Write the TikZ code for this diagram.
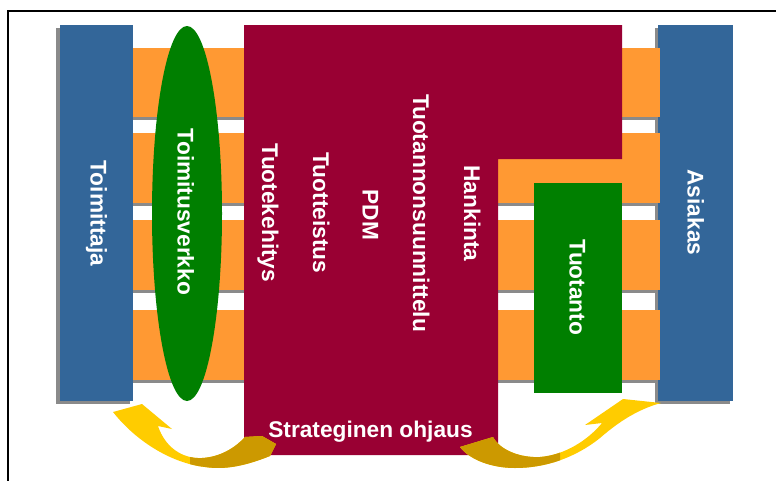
\documentclass[tikz,border=0pt]{standalone}
\usepackage{fontspec}
\setmainfont{Liberation Sans}
\definecolor{barblue}{HTML}{336699}
\definecolor{linkorange}{HTML}{FF9933}
\definecolor{netgreen}{HTML}{007F00}
\definecolor{coremaroon}{HTML}{990033}
\definecolor{shadowgray}{HTML}{8A8A8A}
\definecolor{sweepyellow}{HTML}{FFCC00}
\definecolor{sweepgold}{HTML}{CC9900}
% curved sweep arrows (left: back to the supplier, right: out to the customer)
\def\pathLeftSweep{(113,412) -- (142,404) -- (172,429) -- (158,426)
  .. controls (165,447) and (182,459) .. (202,458)
  .. controls (220,457) and (235,448) .. (245,437)
  -- (262,436) -- (276,444) -- (270,456)
  .. controls (245,466) and (225,470) .. (205,467)
  .. controls (170,463) and (135,440) .. (113,412) -- cycle}
\def\pathRightSweep{(460,447) -- (493,437)
  .. controls (500,450) and (520,458) .. (540,457)
  .. controls (565,455) and (588,440) .. (602,423)
  -- (585,425) -- (623,399) -- (661,403)
  .. controls (635,410) and (615,425) .. (600,438)
  .. controls (575,458) and (545,468) .. (515,468)
  .. controls (492,468) and (470,460) .. (460,447) -- cycle}
\begin{document}
\begin{tikzpicture}[x=1pt,y=-1pt,
  lbl/.style={text=white,font=\bfseries\fontsize{22.7}{26}\selectfont,inner sep=0pt},
  vlbl/.style={lbl,rotate=-90,anchor=base},
  shade/.style={fill=shadowgray},
  link/.style={fill=linkorange}]
\useasboundingbox (0,0) rectangle (776,480);
% outer frame
\draw[line width=2pt] (8,484) -- (8,11) -- (780,11);

% supplier and customer bars with their drop shadows
\fill[shade] (56,28) rectangle (130,404);
\fill[barblue] (60,25) rectangle (133,401);
\fill[shade] (655,28) rectangle (730,404);
\fill[barblue] (658,25) rectangle (733,401);

% connecting strips, left side
\foreach \ya/\yb in {48/117,133/203,220/290,310/380}{
  \fill[shade] (133,\ya+3) rectangle (244,\yb+3);
  \fill[link] (133,\ya) rectangle (244,\yb);
}
% connecting strips, right side
\foreach \ya/\yb in {48/117,133/203,220/290,310/380}{
  \fill[shade] (498,\ya+3) rectangle (657,\yb+3);
  \fill[link] (498,\ya) rectangle (660,\yb);
}

% supply network
\fill[netgreen] (187,213.5) ellipse [x radius=35, y radius=187.5];

% company core
\fill[coremaroon] (244,25) -- (622,25) -- (622,159) -- (498,159)
  -- (498,455) -- (244,455) -- cycle;

% production block
\fill[netgreen] (534,183) rectangle (622,393);

% sweep arrows: bright head, darker tail
\fill[sweepyellow] \pathLeftSweep;
\begin{scope}
  \clip (190,380) rectangle (300,480);
  \fill[sweepgold] \pathLeftSweep;
\end{scope}
\fill[sweepyellow] \pathRightSweep;
\begin{scope}
  \clip (440,380) rectangle (560,480);
  \fill[sweepgold] \pathRightSweep;
\end{scope}

% labels
\node[vlbl] (toimittaja) at (90.5,213.5) {Toimittaja};
\node[vlbl] (verkko) at (177.5,212) {Toimitusverkko};
\node[vlbl] (kehitys) at (262,213) {Tuotekehitys};
\node[vlbl] (teistus) at (313,213) {Tuotteistus};
\node[vlbl] (pdm) at (362.5,215) {PDM};
\node[vlbl] (suunnittelu) at (413,213) {Tuotannonsuunnittelu};
\node[vlbl] (hankinta) at (464,213.5) {Hankinta};
\node[vlbl] (tuotanto) at (569.5,287.5) {Tuotanto};
\node[vlbl] (asiakas) at (687.5,212.5) {Asiakas};
\node[lbl,anchor=base] (ohjaus) at (370.5,437) {Strateginen ohjaus};
\end{tikzpicture}
\end{document}
